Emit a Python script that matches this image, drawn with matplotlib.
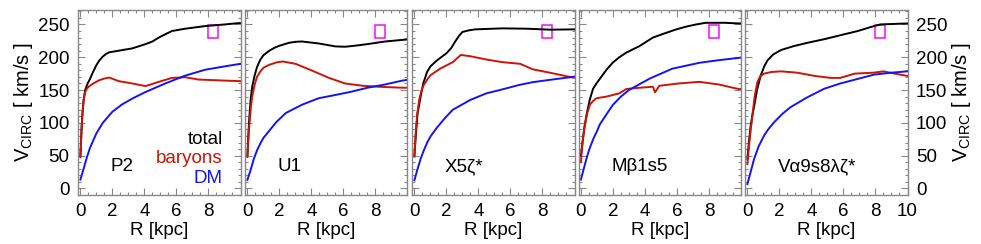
import numpy as np
import matplotlib
matplotlib.use("Agg")
import matplotlib.pyplot as plt
from matplotlib.patches import Rectangle
from matplotlib.ticker import MultipleLocator

plt.rcParams['font.family'] = ['Liberation Sans', 'DejaVu Sans']
plt.rcParams['mathtext.fontset'] = 'custom'
plt.rcParams['mathtext.rm'] = 'Liberation Sans'
plt.rcParams['mathtext.it'] = 'Liberation Sans'

names = ["P2", "U1", "X5ζ*", "Mβ1s5", "Vα9s8λζ*"]

# total (black)
tot_x = [
    [0, 0.1, 0.2, 0.3, 0.45, 0.6, 0.8, 1.0, 1.18, 1.4, 1.6, 1.8, 2.4, 3.24, 4.07, 4.5, 4.9, 5.3, 5.72, 6.55, 7.8, 9.03, 9.86, 10],
    [0, 0.1, 0.2, 0.3, 0.45, 0.6, 0.8, 1.0, 1.37, 1.7, 2.0, 2.6, 3.0, 3.4, 4.45, 5.5, 6.1, 6.7, 7.5, 8.6, 9.7, 10],
    [0, 0.1, 0.2, 0.37, 0.55, 0.79, 1.0, 1.4, 2.0, 2.3, 2.55, 2.8, 3.0, 3.4, 3.8, 5.5, 7.0, 8.5, 10],
    [0, 0.1, 0.2, 0.35, 0.55, 0.76, 1.0, 1.18, 1.6, 2.0, 2.4, 2.83, 3.66, 4.5, 5.3, 5.9, 6.55, 7.2, 7.8, 9.0, 9.86, 10],
    [0, 0.1, 0.2, 0.3, 0.42, 0.6, 0.83, 1.05, 1.25, 1.6, 2.1, 2.9, 3.75, 4.8, 5.8, 6.9, 7.7, 8.3, 10],
]
tot_v = [
    [50, 105, 135, 150, 160, 167, 178, 188, 195, 201, 205, 207.5, 210, 213.5, 220, 224, 230, 235, 240, 243.5, 247.5, 250, 252, 252],
    [50, 100, 135, 155, 172, 185, 196, 203, 210, 214.5, 217.5, 222, 223.5, 224, 221, 216.5, 216, 217.5, 220, 224, 226.5, 227],
    [50, 85, 115, 137.5, 160, 177.5, 186, 195, 206, 214, 224, 233, 238.5, 241, 242.5, 244, 243.5, 242, 242.5],
    [50, 70, 90, 112, 135, 152, 161, 167, 181, 192, 200, 207, 217, 230, 237, 242, 246.5, 250, 252.5, 252.5, 251.5, 251.5],
    [45, 72, 95, 110, 125, 150, 172, 186, 195, 204, 211, 217, 222, 227.5, 233.5, 240, 246, 250, 251.5],
]

# baryons (red)
bar_x = [
    [0, 0.08, 0.15, 0.22, 0.3, 0.4, 0.56, 0.8, 1.18, 1.5, 1.8, 2.4, 3.24, 4.07, 4.9, 5.72, 6.55, 7.38, 8.4, 9.44, 10],
    [0, 0.08, 0.15, 0.22, 0.3, 0.45, 0.6, 0.8, 1.0, 1.37, 1.8, 2.2, 3.0, 4.0, 5.1, 6.1, 7.2, 8.2, 9.7, 10],
    [0, 0.08, 0.17, 0.3, 0.45, 0.58, 0.8, 1.0, 1.6, 2.4, 2.9, 3.5, 4.5, 5.5, 6.6, 7.4, 8.45, 9.9, 10],
    [0, 0.1, 0.25, 0.4, 0.56, 0.75, 0.97, 1.6, 2.4, 2.83, 3.66, 4.5, 4.63, 4.9, 6.1, 7.4, 8.6, 9.86, 10],
    [0, 0.1, 0.2, 0.31, 0.45, 0.62, 0.8, 1.04, 1.5, 2.1, 3.1, 4.2, 5.2, 5.8, 6.7, 7.9, 8.5, 9.2, 10],
]
bar_v = [
    [47.5, 95, 122, 137, 147, 152, 156, 160, 165, 167.5, 169, 163.5, 160, 156, 162.5, 168.5, 169.5, 166, 165, 164, 163.5],
    [48, 85, 105, 125, 140, 158, 170, 178, 184, 188.5, 192, 193.5, 190, 180, 168.5, 160, 156.5, 155, 153.5, 153.5],
    [48.5, 85, 112, 135, 150, 157.5, 166, 172.5, 182.5, 192.5, 203.5, 201.5, 196.5, 192.5, 190, 181.5, 176.5, 169, 169],
    [40, 70, 97.5, 115, 127.5, 133, 137.5, 140, 145, 151.5, 153.5, 155, 146.5, 156.5, 160, 162.5, 158.5, 151.5, 151.5],
    [37, 65, 88, 111, 140, 162, 171, 175, 177.5, 178.5, 176.5, 171.5, 168.5, 168.5, 175, 176.5, 178.5, 175, 171.5],
]

# dark matter (blue)
dm_x = [
    [0, 0.2, 0.4, 0.6, 0.8, 1.0, 1.4, 2.0, 2.6, 3.24, 4.07, 5.3, 6.55, 7.8, 9.0, 10],
    [0, 0.2, 0.4, 0.6, 0.8, 1.0, 1.37, 1.8, 2.4, 3.4, 4.45, 5.5, 6.5, 7.5, 8.6, 9.7, 10],
    [0, 0.2, 0.4, 0.58, 0.8, 1.0, 1.4, 1.9, 2.4, 3.5, 4.5, 5.34, 6.5, 7.4, 8.6, 9.9, 10],
    [0, 0.2, 0.4, 0.56, 0.8, 1.0, 1.18, 1.6, 2.0, 2.5, 3.0, 4.3, 5.7, 7.4, 8.6, 9.86, 10],
    [0, 0.2, 0.42, 0.7, 1.04, 1.3, 1.67, 2.2, 2.7, 3.75, 4.8, 5.8, 6.9, 7.9, 9.0, 10],
]
dm_v = [
    [13.5, 30, 47, 62, 73, 84, 100, 117, 128, 137, 147, 160, 172, 181, 186, 190],
    [13, 28, 45, 58, 68, 77, 88, 101, 115, 127.5, 137.5, 142.5, 147.5, 153.5, 158.5, 164.5, 165.5],
    [12.5, 30, 46, 57.5, 70, 79, 92.5, 107, 120, 135, 145, 150, 157.5, 162, 166, 170, 170.5],
    [13.5, 32, 50, 62, 77, 87, 97.5, 113, 127.5, 140, 150, 167.5, 182.5, 191.5, 195.5, 199, 199.5],
    [6.6, 25, 45, 64, 80.6, 90, 101, 114, 124, 139, 152, 160, 167, 173.5, 176.5, 178.5],
]

# observed point (magenta box)
obs_r = 8.3
obs_v = 239

red = '#cc1408'
blue = '#1414f0'
frame = '#888888'
fs = 13.5

fig = plt.figure(figsize=(9.81, 2.44), dpi=100)
W, H = 981.0, 244.0
lefts = [78, 245, 412, 578.5, 745]
pw = 162.5

for i in range(5):
    ax = fig.add_axes([lefts[i] / W, 1 - 195 / H, pw / W, 185 / H])
    ax.plot(tot_x[i], tot_v[i], color='k', lw=1.4)
    ax.plot(bar_x[i], bar_v[i], color=red, lw=1.4)
    ax.plot(dm_x[i], dm_v[i], color=blue, lw=1.4)
    ax.add_patch(Rectangle((obs_r - 0.3, obs_v - 9.5), 0.6, 19, fill=False,
                           edgecolor='#ee11ee', lw=1.1))
    ax.set_xlim(-0.15, 10)
    ax.set_ylim(-10, 272)
    ax.xaxis.set_major_locator(MultipleLocator(2))
    ax.xaxis.set_minor_locator(MultipleLocator(0.5))
    ax.yaxis.set_major_locator(MultipleLocator(50))
    ax.yaxis.set_minor_locator(MultipleLocator(10))
    ax.tick_params(which='both', direction='in', top=True, right=True,
                   color=frame, labelsize=fs, pad=6)
    ax.tick_params(which='major', length=5, width=0.8)
    ax.tick_params(which='minor', length=2.5, width=0.8)
    for s in ax.spines.values():
        s.set_color(frame)
        s.set_linewidth(1.0)
    if i < 4:
        ax.set_xticks([0, 2, 4, 6, 8, 10])
        ax.set_xticklabels(['0', '2', '4', '6', '8', ''])
    ax.set_xlabel('R [kpc]', fontsize=fs, labelpad=1)
    if i == 0:
        ax.set_ylabel(r'V$_{\rm CIRC}$ [ km/s ]', fontsize=fs + 1, labelpad=2)
    elif i == 4:
        ax.yaxis.set_label_position('right')
        ax.tick_params(which='both', labelleft=False, labelright=True)
        ax.set_ylabel(r'V$_{\rm CIRC}$ [ km/s ]', fontsize=fs + 1, labelpad=2)
    else:
        ax.tick_params(which='both', labelleft=False)
    ax.text(1.9, 33, names[i], fontsize=fs, va='center', ha='left')
    if i == 0:
        ax.text(8.9, 75, 'total', color='k', fontsize=fs, ha='right', va='center')
        ax.text(8.9, 45, 'baryons', color=red, fontsize=fs, ha='right', va='center')
        ax.text(8.9, 15, 'DM', color=blue, fontsize=fs, ha='right', va='center')

fig.savefig('out.png', dpi=100)
